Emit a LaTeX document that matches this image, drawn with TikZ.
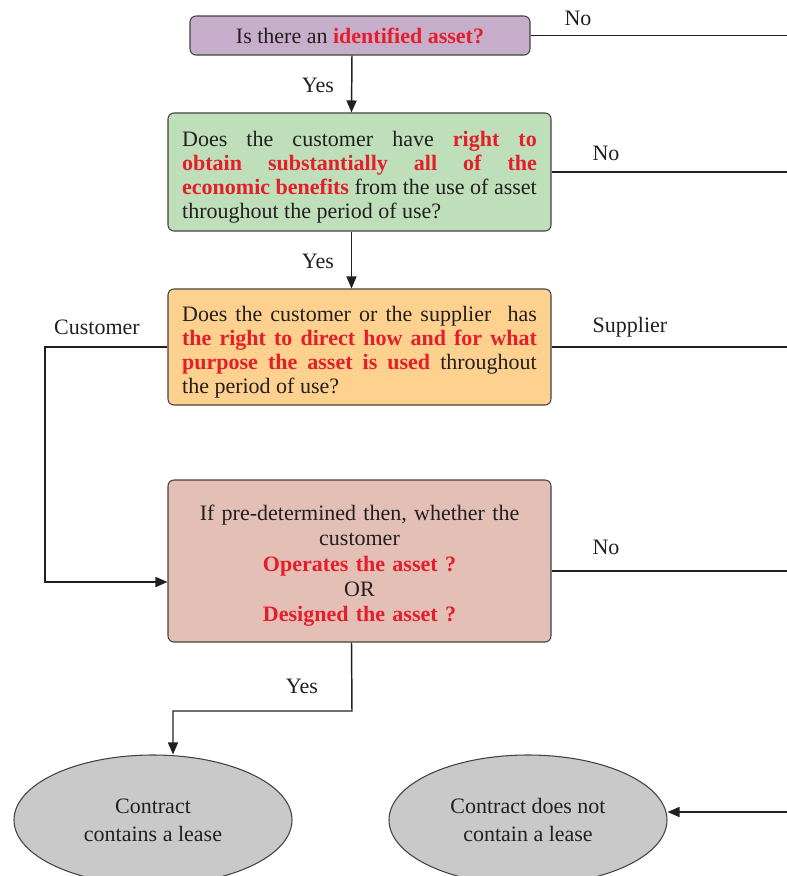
\documentclass[tikz,border=0pt]{standalone}
\usepackage{fontspec}
\setmainfont{Liberation Serif}
\usetikzlibrary{arrows.meta,shapes.geometric,positioning}

\definecolor{askpurple}{HTML}{C7AFCC}
\definecolor{askgreen}{HTML}{BEDFB9}
\definecolor{askorange}{HTML}{FED18E}
\definecolor{askpink}{HTML}{E4BFB6}
\definecolor{endgray}{HTML}{C9C9C9}
\definecolor{keyred}{HTML}{E41E2B}
\definecolor{inkdark}{HTML}{231F20}
\newcommand{\keyword}[1]{\textcolor{keyred}{\textbf{#1}}}
\newcommand{\toppad}{\rule{0pt}{19pt}}

\begin{document}
\begin{tikzpicture}[x=0.75pt,y=-0.75pt,
	font=\fontsize{16.5}{18}\selectfont, text=inkdark,
	question/.style={draw=inkdark!85, line width=0.8pt, rounded corners=4.5pt,
		minimum width=287.25pt, inner xsep=10.5pt, inner ysep=3pt},
	outcome/.style={ellipse, draw=inkdark!85, line width=0.8pt, fill=endgray,
		minimum width=208.5pt, minimum height=97.5pt, inner sep=0pt, align=center,
		font=\fontsize{16.5}{21}\selectfont},
	flow/.style={draw=inkdark, line width=1.1pt},
	arr/.style={flow, -{Triangle[length=9pt,width=7.5pt]}},
	tag/.style={inner sep=0pt}]
	\useasboundingbox (0,0) rectangle (787,876);

	% 1. 四个判断框
	\node [question, fill=askpurple, minimum width=255pt, minimum height=29.25pt]
		(q1) at (360,35.5) {Is there an \keyword{identified asset?}};
	\node [question, fill=askgreen, minimum height=88.5pt, text width=266pt, align=justify]
		(q2) at (359.5,172) {\toppad Does the customer have \keyword{right to}\linebreak
		\keyword{obtain substantially all of the}\linebreak
		\keyword{economic benefits} from the use of asset\linebreak
		throughout the period of use?};
	\node [question, fill=askorange, minimum height=87pt, text width=266pt, align=justify]
		(q3) at (359.5,347) {\toppad Does the customer or the supplier\ \ has\linebreak
		\keyword{the right to direct how and for what}\linebreak
		\keyword{purpose the asset is used} throughout\linebreak
		the period of use?};
	\node [question, fill=askpink, minimum height=121.5pt, text width=266pt, align=center,
		font=\fontsize{16.5}{19}\selectfont]
		(q4) at (359.5,561) {\toppad If pre-determined then, whether the\\ customer\\
		\keyword{Operates the asset ?}\\ OR\\ \keyword{Designed the asset ?}};

	% 2. 两个结论
	\node [outcome] (lease) at (153,820) {Contract\\ contains a lease};
	\node [outcome] (nolease) at (528,820) {Contract does not\\ contain a lease};

	% 3. 右侧出口（图外的竖线）
	\coordinate (edge) at (787,0);
	\coordinate (cust) at (45,347);
	\coordinate (bend) at (352,711);
	\coordinate (r5) at (787,812);

	% 4. 连接线
	\draw [arr] ([xshift=-6pt]q1.south) -- ([xshift=-6pt]q2.north);
	\draw [arr] ([xshift=-6pt]q2.south) -- ([xshift=-6pt]q3.north);
	\draw [flow] (q1.east) -- (q1.east -| edge);
	\draw [flow] (q2.east) -- (q2.east -| edge);
	\draw [flow] (q3.east) -- (q3.east -| edge);
	\draw [flow] ([yshift=-7.5pt]q4.east) -- ([yshift=-7.5pt]q4.east -| edge);
	\draw [arr] (q3.west) -- (cust) |- ([yshift=-15.75pt]q4.west);
	\draw [arr] ([xshift=-6pt]q4.south) -- (bend) -| ([xshift=15pt]lease.north);
	\draw [arr] (r5) -- (r5 -| nolease.east);

	% 5. 标签
	\node [tag] (yes1) at (318,85) {Yes};
	\node [tag] (yes2) at (318,261) {Yes};
	\node [tag] (yes3) at (302,686) {Yes};
	\node [tag] (no1) at (578,18) {No};
	\node [tag] (no2) at (606,153) {No};
	\node [tag] (no3) at (606,547) {No};
	\node [tag] (custlabel) at (97,327) {Customer};
	\node [tag] (supplabel) at (630,327) {Supplier};
\end{tikzpicture}
\end{document}
